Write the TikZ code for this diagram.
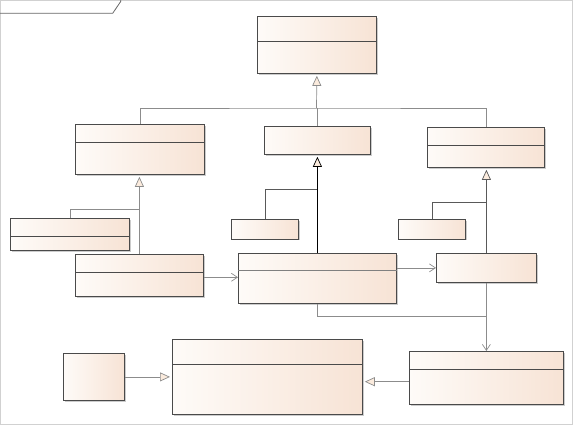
\documentclass[tikz,border=0pt]{standalone}
\usetikzlibrary{arrows.meta,shadows,calc}
\definecolor{pl}{HTML}{FEFBF8}
\definecolor{pr}{HTML}{F7E3D5}
\definecolor{bd}{HTML}{4A4A4A}
\definecolor{cn}{HTML}{8C8C8C}
\definecolor{tri}{HTML}{FBEBDD}
\tikzset{
 cls/.style={draw=bd, line width=0.8pt, left color=pl, right color=pr, inner sep=0pt, anchor=north west,
   drop shadow={shadow xshift=1.2pt, shadow yshift=-1.2pt, fill=black!40, opacity=0.5}},
 conn/.style={draw=cn, line width=0.7pt},
 gen/.style={conn, -{Triangle[width=9pt,length=10pt,fill=tri]}, shorten >=2pt},
 assoc/.style={conn, -{Straight Barb[length=6pt,width=8pt]}},
 divl/.style={draw=bd, line width=0.8pt},
}
\begin{document}
\begin{tikzpicture}[x=1pt,y=-1pt]
\useasboundingbox (0,0) rectangle (573,425);
\draw[black!18, line width=1pt] (0.5,0.5) rectangle (572,424.3);
\draw[black!60, line width=0.8pt] (0,13.3) -- (112.7,13.3) -- (120.7,1.5) -- (120.7,0);
% classes
\node[cls, minimum width=119pt, minimum height=57pt] (b1) at (257,16) {};
\node[cls, minimum width=129pt, minimum height=50pt] (b2) at (75,124) {};
\node[cls, minimum width=106pt, minimum height=28pt] (b3) at (264,126) {};
\node[cls, minimum width=117pt, minimum height=40pt] (b4) at (427,127) {};
\node[cls, minimum width=128pt, minimum height=42pt] (b5) at (75,254) {};
\node[cls, minimum width=119pt, minimum height=32pt] (b6) at (10,218) {};
\node[cls, minimum width=158pt, minimum height=50pt] (b7) at (238,253) {};
\node[cls, minimum width=67pt, minimum height=19.5pt] (b8) at (231,219) {};
\node[cls, minimum width=100pt, minimum height=29pt] (b9) at (436,253) {};
\node[cls, minimum width=67pt, minimum height=19.5pt] (b10) at (398,219) {};
\node[cls, minimum width=154pt, minimum height=53pt] (b11) at (409,351) {};
\node[cls, minimum width=190pt, minimum height=75pt] (b12) at (172,339) {};
\node[cls, minimum width=61pt, minimum height=47pt] (b13) at (63,353) {};
% dividers
\draw[divl] ($(b1.north west)+(0,25.7)$) -- ($(b1.north east)+(0,25.7)$);
\draw[divl] ($(b2.north west)+(0,18.3)$) -- ($(b2.north east)+(0,18.3)$);
\draw[divl] ($(b4.north west)+(0,18)$) -- ($(b4.north east)+(0,18)$);
\draw[divl] ($(b5.north west)+(0,18.3)$) -- ($(b5.north east)+(0,18.3)$);
\draw[divl] ($(b6.north west)+(0,18)$) -- ($(b6.north east)+(0,18)$);
\draw[draw=black!50, line width=1.2pt] ($(b7.north west)+(0,17.7)$) -- ($(b7.north east)+(0,17.7)$);
\draw[divl] ($(b11.north west)+(0,18.3)$) -- ($(b11.north east)+(0,18.3)$);
\draw[divl] ($(b12.north west)+(0,25)$) -- ($(b12.north east)+(0,25)$);
% junctions
\coordinate (j1) at (316.5,108);
\coordinate (j2) at (139.5,209);
\coordinate (j3) at (317,189.3);
\coordinate (j4) at (486,202.3);
\coordinate (j5) at (486,316);
\coordinate (a1) at (0,277.3);
\coordinate (a2) at (0,381.7);
% top tree
\draw[conn] (b2.north) |- (j1) -| (b4.north);
\draw[conn] (b3.north) -- (b3.north |- j1);
\draw[gen] (j1) -- (b1.south);
% left group
\draw[gen] (b5.north) -- (b5.north |- b2.south);
\draw[conn] (b6.north) |- (j2);
% center group
\draw[gen, draw=black] (b7.north) -- (b3.south);
\draw[conn, draw=black!65] (b8.north) |- (j3);
% right group
\draw[gen, draw=black!65] (b9.north) -- (b9.north |- b4.south);
\draw[conn, draw=black!65] (b10.north) |- (j4);
% associations
\draw[assoc] (b5.east |- a1) -- (b7.west |- a1);
\draw[assoc] (b9.west -| b7.east) -- (b9.west);
\draw[assoc] (b9.south) -- (b11.north);
\draw[conn] (b7.south) |- (j5);
% bottom generalizations
\draw[gen] (b11.west |- a2) -- (b12.east |- a2);
\draw[gen] (b13.east) -- (b12.west |- b13.east);
\end{tikzpicture}
\end{document}
